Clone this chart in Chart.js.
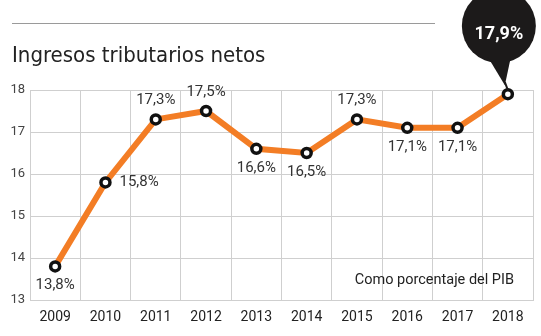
<!DOCTYPE html>
<html>
<head>
<meta charset="utf-8">
<script src="https://cdn.jsdelivr.net/npm/chart.js@4"></script>
<style>
  html, body { margin: 0; padding: 0; background: #fff; }
  #wrap { width: 541px; height: 336px; position: relative; }
</style>
</head>
<body>
<div id="wrap"><canvas id="chart"></canvas></div>
<script>
const years = ["2009", "2010", "2011", "2012", "2013", "2014", "2015", "2016", "2017", "2018"];
const ingresos = [13.8, 15.8, 17.3, 17.5, 16.6, 16.5, 17.3, 17.1, 17.1, 17.9];
// where each value label sits relative to its point
const labelPos = ["below", "right", "above", "above", "below", "below", "above", "below", "below", "bubble"];
const yTicks = [13, 14, 15, 16, 17, 18];

const titulo = "Ingresos tributarios netos";
const nota = "Como porcentaje del PIB";

const FONT = "Roboto, 'Liberation Sans', sans-serif";
const ORANGE = "#f37d25";
const GRID = "#cfcfcf";

function fmt(v) {
  return v.toFixed(1).replace(".", ",") + "%";
}

const decor = {
  id: "decor",
  afterDraw(chart) {
    const ctx = chart.ctx;
    const area = chart.chartArea;
    const pts = chart.getDatasetMeta(0).data;
    ctx.save();

    // top rule + title
    ctx.strokeStyle = "#9a9a9a";
    ctx.lineWidth = 1;
    ctx.beginPath();
    ctx.moveTo(12, 23.5);
    ctx.lineTo(435, 23.5);
    ctx.stroke();
    ctx.fillStyle = "#222";
    ctx.font = "22px 'Liberation Sans Narrow', 'DejaVu Sans Condensed', sans-serif";
    ctx.textAlign = "left";
    ctx.textBaseline = "alphabetic";
    ctx.fillText(titulo, 12, 62);

    // note inside the plot
    ctx.font = "14.5px " + FONT;
    ctx.fillStyle = "#222";
    ctx.textAlign = "right";
    ctx.textBaseline = "middle";
    ctx.fillText(nota, area.right - 19, 280);

    // value labels
    ctx.font = "15px " + FONT;
    ctx.fillStyle = "#333";
    pts.forEach((p, i) => {
      const txt = fmt(ingresos[i]);
      const pos = labelPos[i];
      if (pos === "above") {
        ctx.textAlign = "center";
        ctx.fillText(txt, p.x, p.y - 19);
      } else if (pos === "below") {
        ctx.textAlign = "center";
        ctx.fillText(txt, p.x, p.y + 19);
      } else if (pos === "right") {
        ctx.textAlign = "left";
        ctx.fillText(txt, p.x + 14, p.y);
      }
    });

    // callout bubble for the last year
    const last = pts[pts.length - 1];
    const cx = last.x - 9, cy = 26, r = 37;
    ctx.fillStyle = "#1c1a1a";
    ctx.beginPath();
    ctx.arc(cx, cy, r, 0, Math.PI * 2);
    ctx.fill();
    ctx.beginPath();
    ctx.moveTo(cx - 11, cy + r - 6);
    ctx.lineTo(cx + 12, cy + r - 6);
    ctx.lineTo(last.x - 3, last.y - 9);
    ctx.closePath();
    ctx.fill();
    ctx.strokeStyle = "#1c1a1a";
    ctx.lineWidth = 2;
    ctx.beginPath();
    ctx.moveTo(last.x - 3, last.y - 12);
    ctx.lineTo(last.x, last.y - 4);
    ctx.stroke();
    ctx.fillStyle = "#fff";
    ctx.font = "bold 18px " + FONT;
    ctx.textAlign = "center";
    ctx.textBaseline = "middle";
    ctx.fillText(fmt(ingresos[ingresos.length - 1]), cx, 34);

    ctx.restore();
  }
};

new Chart(document.getElementById("chart"), {
  type: "line",
  data: {
    labels: years,
    datasets: [{
      data: ingresos,
      borderColor: ORANGE,
      borderWidth: 6,
      tension: 0,
      pointRadius: 4.5,
      pointBorderWidth: 3.5,
      pointBorderColor: "#111",
      pointBackgroundColor: "#fff",
      clip: false
    }]
  },
  options: {
    responsive: true,
    maintainAspectRatio: false,
    animation: false,
    layout: { padding: { top: 90, right: 8, left: 0, bottom: 0 } },
    plugins: {
      legend: { display: false },
      tooltip: { enabled: false }
    },
    scales: {
      x: {
        offset: true,
        grid: { offset: true, color: GRID, drawTicks: false },
        border: { color: GRID },
        ticks: { color: "#222", font: { family: FONT, size: 14 }, padding: 9 },
        afterFit(s) { s.height = 36; }
      },
      y: {
        min: 13,
        max: 18,
        afterBuildTicks(s) { s.ticks = yTicks.map(v => ({ value: v })); },
        grid: { color: GRID, drawTicks: false },
        border: { color: GRID },
        ticks: { color: "#444", font: { family: FONT, size: 13 }, padding: 5 },
        afterFit(s) { s.width = 30; }
      }
    }
  },
  plugins: [decor]
});
</script>
</body>
</html>
